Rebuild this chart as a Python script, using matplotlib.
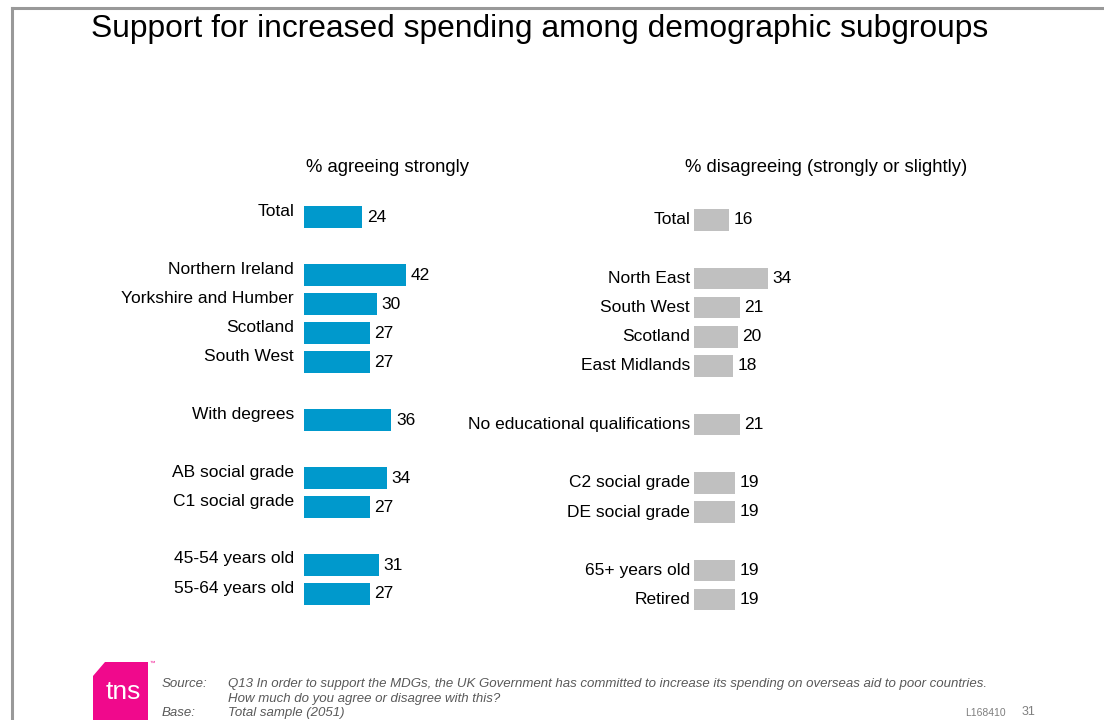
import matplotlib
matplotlib.use("Agg")
import matplotlib.pyplot as plt
from matplotlib.patches import Polygon

plt.rcParams['font.family'] = ['Liberation Sans', 'DejaVu Sans']

# ---- data ----
agree_labels = ["Total", "Northern Ireland", "Yorkshire and Humber", "Scotland",
                "South West", "With degrees", "AB social grade", "C1 social grade",
                "45-54 years old", "55-64 years old"]
agree_values = [24, 42, 30, 27, 27, 36, 34, 27, 31, 27]
agree_slots = [0, 2, 3, 4, 5, 7, 9, 10, 12, 13]

disagree_labels = ["Total", "North East", "South West", "Scotland", "East Midlands",
                   "No educational qualifications", "C2 social grade",
                   "DE social grade", "65+ years old", "Retired"]
disagree_values = [16, 34, 21, 20, 18, 21, 19, 19, 19, 19]
disagree_slots = [0, 2, 3, 4, 5, 7, 9, 10, 12, 13]

W, H = 1104, 720
fig = plt.figure(figsize=(W / 100, H / 100), dpi=100)


def px_axes(x0, y0, w, h):
    """Axes placed with pixel coordinates measured from the top-left corner."""
    ax = fig.add_axes([x0 / W, 1 - (y0 + h) / H, w / W, h / H])
    ax.set_axis_off()
    return ax


def fx(x):
    return x / W


def fy(y):
    return 1 - y / H


# frame lines along top and left
fig.add_artist(plt.Line2D([fx(12), fx(W)], [fy(7.5), fy(7.5)], color="#999999", lw=2.2))
fig.add_artist(plt.Line2D([fx(12), fx(12)], [fy(7.5), fy(H)], color="#999999", lw=2.2))

fig.text(fx(91), fy(29.5), "Support for increased spending among demographic subgroups",
         fontsize=22.9, ha="left", va="center", color="black")

fig.text(fx(388), fy(167.5), "% agreeing strongly", fontsize=13.3, ha="center", va="center")
fig.text(fx(826), fy(167.5), "% disagreeing (strongly or slightly)", fontsize=13.3,
         ha="center", va="center")


def panel(x0, y_first, step, scale, labels, values, slots, color, label_dx, label_dy):
    n_rows = 14
    top = y_first - 0.5 * step
    ax = px_axes(x0, top, 100 * scale, n_rows * step)
    ax.set_xlim(0, 100)
    ax.set_ylim(n_rows - 0.5, -0.5)
    ax.barh(slots, values, height=0.74, color=color, left=0)
    for s, v, lab in zip(slots, values, labels):
        ax.annotate(str(v), (v, s), xytext=(4.5, 0), textcoords="offset pixels",
                    ha="left", va="center", fontsize=12.5)
        ax.annotate(lab, (0, s), xytext=(-label_dx, label_dy), textcoords="offset pixels",
                    ha="right", va="center", fontsize=12.5)
    return ax


panel(304, 217, 29.0, 2.43, agree_labels, agree_values, agree_slots,
      "#0099CC", 10, 6)
panel(694, 220, 29.2, 2.18, disagree_labels, disagree_values, disagree_slots,
      "#C0C0C0", 4, 0)

# logo
logo = Polygon([(fx(93), fy(676)), (fx(105), fy(662)), (fx(148), fy(662)),
                (fx(148), fy(720)), (fx(93), fy(720))],
               closed=True, facecolor="#F0098C", edgecolor="none", transform=fig.transFigure)
fig.add_artist(logo)
fig.text(fx(106), fy(692), "tns", fontsize=19, color="white", ha="left", va="center")
fig.text(fx(149), fy(663), "™", fontsize=4, color="#F0098C", ha="left", va="center")

foot = dict(fontsize=9.5, style="italic", color="#595959", ha="left", va="center")
fig.text(fx(162), fy(684), "Source:", **foot)
fig.text(fx(228), fy(684), "Q13 In order to support the MDGs, the UK Government has committed "
         "to increase its spending on overseas aid to poor countries.", **foot)
fig.text(fx(228), fy(699), "How much do you agree or disagree with this?", **foot)
fig.text(fx(162), fy(713), "Base:", **foot)
fig.text(fx(228), fy(713), "Total sample (2051)", **foot)
fig.text(fx(965), fy(713), "L168410", fontsize=7.5, color="#7F7F7F", ha="left", va="center")
fig.text(fx(1022), fy(712), "31", fontsize=9, color="#7F7F7F", ha="left", va="center")

fig.savefig("out.png", dpi=100)
